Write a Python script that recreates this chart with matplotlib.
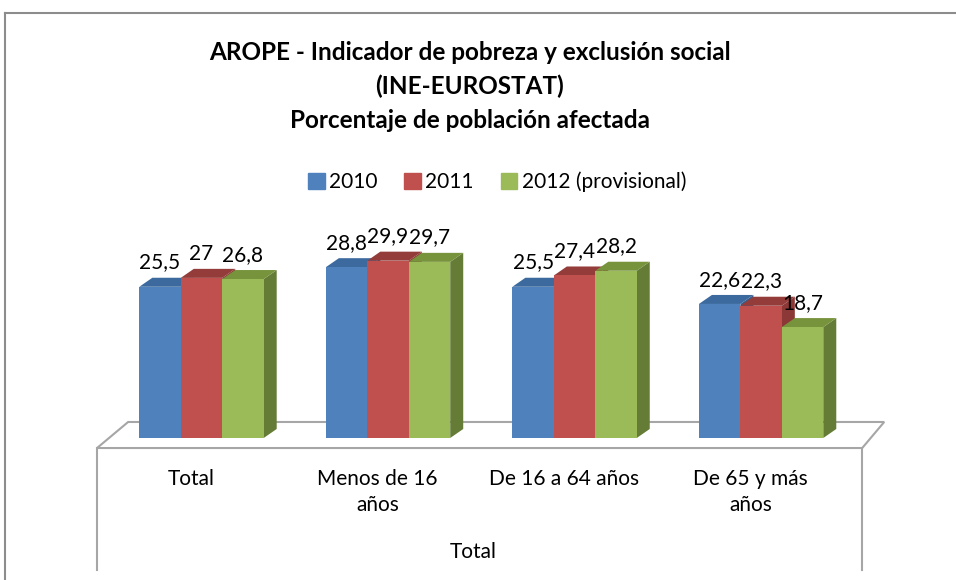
import numpy as np
import matplotlib
matplotlib.use("Agg")
from matplotlib import pyplot as plt
from matplotlib.patches import Polygon
from matplotlib.lines import Line2D

plt.rcParams['font.family'] = ['Lato', 'DejaVu Sans']

# data
categories = ['Total', 'Menos de 16\naños', 'De 16 a 64 años', 'De 65 y más\naños']
series = ['2010', '2011', '2012 (provisional)']
v2010 = [25.5, 28.8, 25.5, 22.6]
v2011 = [27, 29.9, 27.4, 22.3]
v2012 = [26.8, 29.7, 28.2, 18.7]
values = [v2010, v2011, v2012]
labels = [['25,5', '28,8', '25,5', '22,6'],
          ['27', '29,9', '27,4', '22,3'],
          ['26,8', '29,7', '28,2', '18,7']]

front = ['#4F81BD', '#C0504D', '#9BBB59']
top = ['#3C6A9E', '#943C3A', '#77933C']
side = ['#385D8A', '#8C3836', '#657C36']

W, H = 956, 580
fig = plt.figure(figsize=(W / 100, H / 100), dpi=100)
ax = fig.add_axes([90 / W, 5 / H, 800 / W, 375 / H])
ax.set_xlim(-2.69, 16.61)
ax.set_ylim(-23.1, 40.13)
ax.axis('off')

gap = 4.5      # group spacing
bw = 1.0       # bar width
dx, dy = 0.314, 1.52   # 3d depth offset
centers = np.arange(len(categories)) * gap

# floor / platform
fl, fr = centers[0] - 1.5 * bw - 1.02, centers[-1] + 1.5 * bw + 0.94
yb, yf, ybot = 2.7, -1.69, -22.3
floor = Polygon([(fl, yf), (fl + 0.75, yb), (fr + 0.53, yb), (fr, yf)],
                closed=True, facecolor='white', edgecolor='#A6A6A6', lw=1.5, zorder=1)
ax.add_patch(floor)
ax.plot([fl, fl], [yf, ybot], color='#A6A6A6', lw=1.5, zorder=1, clip_on=False)
ax.plot([fr, fr], [yf, ybot], color='#A6A6A6', lw=1.5, zorder=1, clip_on=False)

z = 2
for g in range(len(categories)):
    for s in range(len(series)):
        v = values[s][g]
        x0 = centers[g] + (s - 1) * bw - bw / 2
        x1 = x0 + bw
        ax.add_patch(Polygon([(x1, 0), (x1 + dx, dy), (x1 + dx, v + dy), (x1, v)],
                             closed=True, facecolor=side[s], edgecolor='none', zorder=z))
        ax.add_patch(Polygon([(x0, v), (x0 + dx, v + dy), (x1 + dx, v + dy), (x1, v)],
                             closed=True, facecolor=top[s], edgecolor='none', zorder=z))
        ax.bar(x0, v, width=bw, align='edge', color=front[s], zorder=z + 0.5)
        ax.text(x0 + bw / 2, v + dy + 0.9, labels[s][g], ha='center', va='bottom',
                fontsize=15, zorder=50)
        z += 1

for g, c in enumerate(categories):
    ax.text(centers[g] - 0.25, -5.2, c, ha='center', va='top', fontsize=15,
            linespacing=1.4)
ax.text(centers.mean() - 0.2, -19.2, 'Total', ha='center', va='center', fontsize=15)

# titles
fig.text(470 / W, 1 - 52 / H, 'AROPE - Indicador de pobreza y exclusión social',
         ha='center', va='center', fontsize=17.5, fontweight='bold')
fig.text(470 / W, 1 - 86 / H, '(INE-EUROSTAT)',
         ha='center', va='center', fontsize=17.5, fontweight='bold')
fig.text(470 / W, 1 - 121 / H, 'Porcentaje de población afectada',
         ha='center', va='center', fontsize=17.5, fontweight='bold')

handles = [plt.Rectangle((0, 0), 1, 1, color=c) for c in front]
fig.legend(handles, series, loc='center', bbox_to_anchor=(497 / W, 1 - 182 / H),
           ncol=3, frameon=False, fontsize=15, handlelength=0.8, handleheight=0.8,
           handletextpad=0.2, columnspacing=1.3)

# chart border
fig.add_artist(Line2D([5 / W, 1], [1 - 13 / H, 1 - 13 / H], color='#8C8C8C', lw=1.5))
fig.add_artist(Line2D([5 / W, 5 / W], [0, 1 - 13 / H], color='#8C8C8C', lw=1.5))

fig.savefig('out.png', dpi=100)
